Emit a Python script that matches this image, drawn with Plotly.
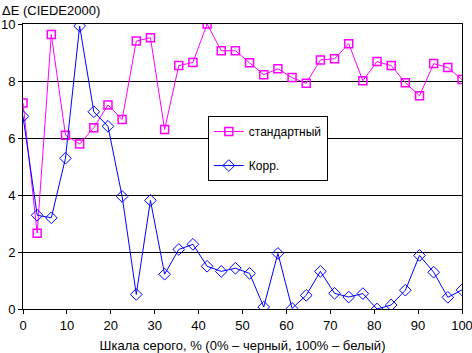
import plotly.graph_objects as go

n_points = 32
x_vals = [i * 100 / 31 for i in range(n_points)]

standard = [7.23, 2.66, 9.63, 6.1, 5.79, 6.36, 7.16, 6.65, 9.4, 9.52,
            6.3, 8.54, 8.65, 10.0, 9.06, 9.06, 8.64, 8.22, 8.43, 8.12,
            7.92, 8.74, 8.78, 9.31, 8.01, 8.68, 8.54, 7.94, 7.48, 8.61,
            8.47, 8.05]
corr = [6.76, 3.29, 3.2, 5.29, 9.93, 6.92, 6.41, 3.95, 0.51, 3.81,
        1.22, 2.09, 2.27, 1.5, 1.32, 1.43, 1.25, 0.07, 1.95, 0.02,
        0.48, 1.32, 0.55, 0.42, 0.54, 0.0, 0.14, 0.66, 1.88, 1.29,
        0.41, 0.67]

series_names = ["стандартный", "Корр."]
x_ticks = [0, 10, 20, 30, 40, 50, 60, 70, 80, 90, 100]
y_ticks = [0, 2, 4, 6, 8, 10]

font_family = "Liberation Sans, Arial, sans-serif"

fig = go.Figure()
fig.add_trace(go.Scatter(
    x=x_vals, y=standard, name=series_names[0], mode="lines+markers",
    line=dict(color="#FF00FF", width=1),
    marker=dict(symbol="square-open", size=8, color="#FF00FF", line=dict(width=1.5, color="#FF00FF")),
    legendgroup="a"))
fig.add_trace(go.Scatter(
    x=x_vals, y=corr, name=series_names[1], mode="lines+markers",
    line=dict(color="#0000FF", width=1),
    marker=dict(symbol="diamond-open", size=9, color="#0000FF", line=dict(width=1, color="#0000FF")),
    legendgroup="b"))

fig.update_layout(
    width=472, height=353,
    margin=dict(l=23, r=10, t=24, b=44, autoexpand=False),
    paper_bgcolor="white", plot_bgcolor="white",
    font=dict(family=font_family, size=13, color="black"),
    showlegend=True,
    legend=dict(x=0.421, y=0.677, xanchor="left", yanchor="top",
                bgcolor="white", bordercolor="black", borderwidth=1,
                font=dict(size=12), tracegroupgap=15,
                itemwidth=30),
    xaxis=dict(range=[0, 100], tickvals=x_ticks, ticks="outside", ticklen=4,
               tickcolor="black", showline=True, linecolor="black", linewidth=1,
               mirror=True, showgrid=False, zeroline=False, automargin=False,
               ticklabeloverflow="allow", tickfont=dict(size=13),
               title=dict(text="Шкала серого, % (0% – черный, 100% – белый)",
                          font=dict(size=13), standoff=11)),
    yaxis=dict(range=[0, 10], tickvals=y_ticks, ticks="outside", ticklen=4,
               tickcolor="black", showline=True, linecolor="black", linewidth=1,
               mirror=True, showgrid=True, gridcolor="black", gridwidth=1,
               zeroline=False, automargin=False, ticklabeloverflow="allow",
               tickfont=dict(size=13)),
    annotations=[dict(text="ΔE (CIEDE2000)", xref="paper", yref="paper",
                      x=-23/439, y=1 + 23/285, xanchor="left", yanchor="top",
                      showarrow=False, font=dict(size=13))],
)

fig.write_html("out.html")
